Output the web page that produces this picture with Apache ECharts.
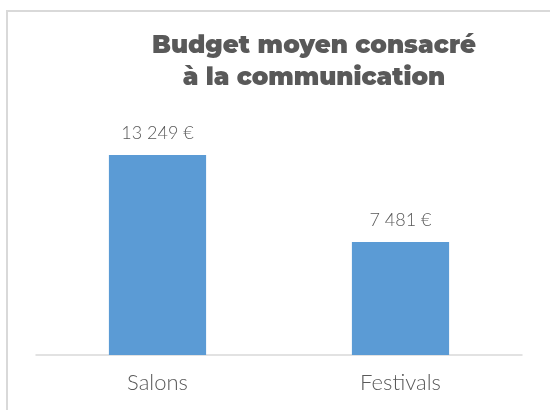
<!DOCTYPE html>
<html>
<head>
<meta charset="utf-8">
<script src="https://cdn.jsdelivr.net/npm/echarts@6/dist/echarts.min.js"></script>
<style>
  html, body { margin: 0; padding: 0; background: #fff; }
  #chart { width: 550px; height: 410px; }
</style>
</head>
<body>
<div id="chart"></div>
<script>
// données
var categories = ['Salons', 'Festivals'];
var budget = [13249, 7481];
var titleLines = ['Budget moyen consacré', 'à la communication'];

// 13249 -> "13 249 €"
function fmtEuro(v) {
  return String(v).replace(/\B(?=(\d{3})+(?!\d))/g, ' ') + ' €';
}

var myChart = echarts.init(document.getElementById('chart'));
var option = {
  animation: false,
  title: {
    text: titleLines.join('\n'),
    left: 309,
    top: 25,
    textAlign: 'center',
    textStyle: {
      fontFamily: 'Montserrat, "DejaVu Sans", sans-serif',
      fontWeight: 900,
      fontSize: 24.5,
      lineHeight: 32,
      color: '#595959'
    }
  },
  graphic: [{
    type: 'rect',
    shape: { x: 7, y: 11, width: 600, height: 500 },
    style: { fill: 'none', stroke: '#d9d9d9', lineWidth: 2 },
    z: -1
  }],
  grid: { left: 36, right: 28, top: 115, bottom: 55 },
  xAxis: {
    type: 'category',
    data: categories,
    axisTick: { show: false },
    axisLine: { lineStyle: { color: '#d9d9d9', width: 1.5 } },
    axisLabel: {
      margin: 17,
      fontFamily: 'Lato, sans-serif',
      fontWeight: 300,
      fontSize: 22,
      color: '#595959'
    }
  },
  yAxis: {
    type: 'value',
    min: 0,
    max: 15900,
    show: false,
    splitLine: { show: false }
  },
  series: [{
    type: 'bar',
    data: budget,
    barWidth: '40%',
    itemStyle: { color: '#5b9bd5' },
    label: {
      show: true,
      position: 'top',
      distance: 13,
      formatter: function (p) { return fmtEuro(p.value); },
      fontFamily: 'Lato, sans-serif',
      fontWeight: 300,
      fontSize: 18,
      color: '#595959'
    }
  }]
};
myChart.setOption(option);
window.addEventListener('resize', function () {
  myChart.resize();
});
</script>
</body>
</html>
